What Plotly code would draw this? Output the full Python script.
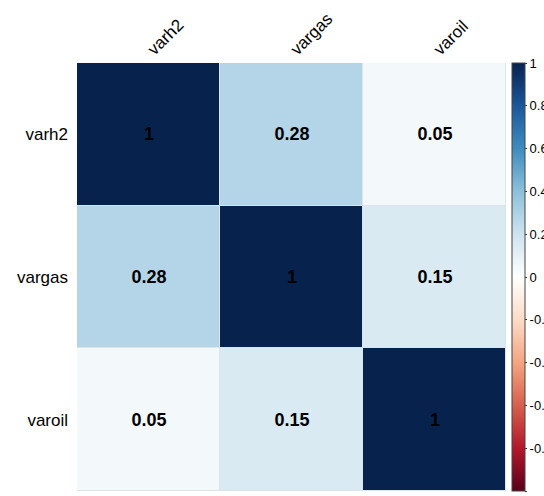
import plotly.graph_objects as go

variables = ["varh2", "vargas", "varoil"]
corr = [
    [1.00, 0.28, 0.05],
    [0.28, 1.00, 0.15],
    [0.05, 0.15, 1.00],
]
cbar_ticks = [-1, -0.8, -0.6, -0.4, -0.2, 0, 0.2, 0.4, 0.6, 0.8, 1]

rdbu = ["#5A001B", "#B2182B", "#D6604D", "#F4A582", "#FDDBC7", "#FFFFFF",
        "#CDE3EF", "#8DC0DB", "#3E8CBF", "#1B579C", "#08224E"]
colorscale = [[i / (len(rdbu) - 1), c] for i, c in enumerate(rdbu)]

text = [[f"{v:g}" for v in row] for row in corr]

FONT = "Liberation Sans, Arial, sans-serif"

fig = go.Figure(go.Heatmap(
    z=corr, x=variables, y=variables,
    zmin=-1, zmax=1, colorscale=colorscale,
    text=text, texttemplate="<b>%{text}</b>",
    textfont=dict(family=FONT, size=18, color="black"),
    xgap=1, ygap=1,
    colorbar=dict(
        x=1.014, xanchor="left", y=0.5, yanchor="middle",
        len=1, lenmode="fraction", thickness=13, xpad=0, ypad=0,
        outlinewidth=1, outlinecolor="#444444",
        tickvals=cbar_ticks, ticktext=[f"{t:g}" for t in cbar_ticks],
        ticks="outside", ticklen=2, tickcolor="#333333",
        tickfont=dict(family=FONT, size=13, color="black"),
    ),
))

fig.update_layout(
    width=544, height=496,
    margin=dict(l=77, r=38, t=63, b=5, autoexpand=False),
    paper_bgcolor="white", plot_bgcolor="#dde3ea",
    xaxis=dict(side="top", tickangle=-45, showgrid=False, zeroline=False,
               ticks="", tickfont=dict(family=FONT, size=17, color="black")),
    yaxis=dict(autorange="reversed", showgrid=False, zeroline=False, ticks="",
               ticklabelstandoff=8,
               tickfont=dict(family=FONT, size=17, color="black")),
)

fig.write_html("out.html")
